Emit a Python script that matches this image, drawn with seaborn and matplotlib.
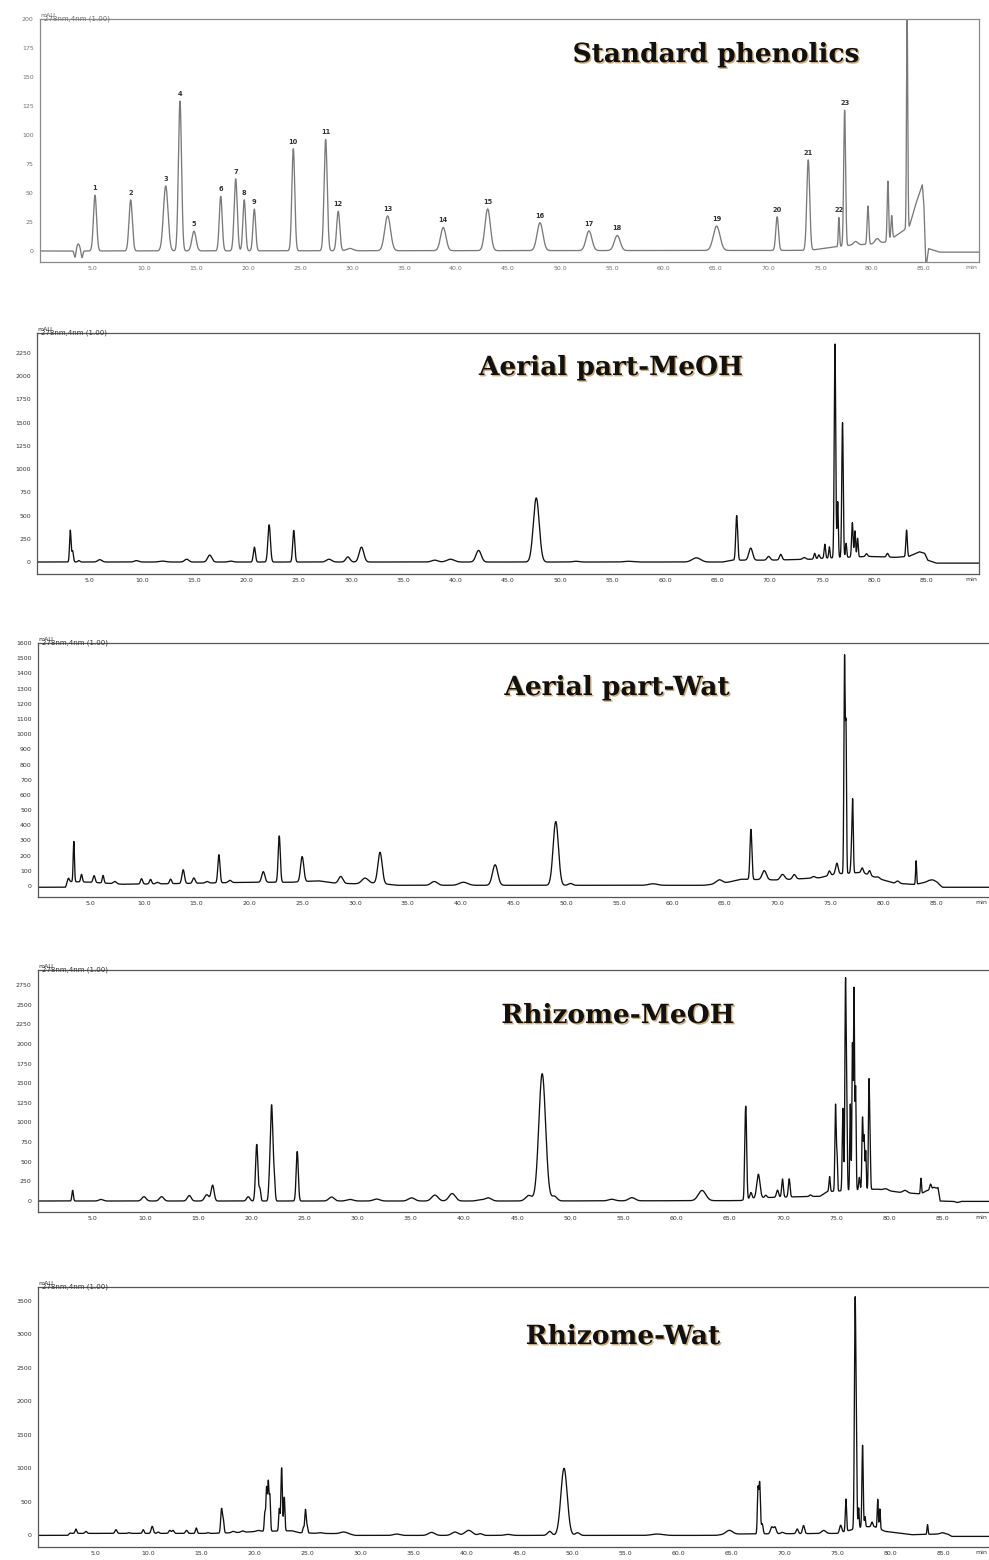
"""
HPLC chromatograms: standard phenolics and four extracts.
"""

import numpy as np
import matplotlib
matplotlib.use("Agg")
import matplotlib.pyplot as plt
import matplotlib.patheffects as pe
from matplotlib.ticker import MultipleLocator
import seaborn as sns


# ---------------------------------------------------
# Datos leídos del cromatograma (tiempo en min, mAU)
# ---------------------------------------------------

x_ticks = [5, 10, 15, 20, 25, 30, 35, 40, 45, 50, 55, 60, 65, 70, 75, 80, 85]
x_tick_labels = ["5.0", "10.0", "15.0", "20.0", "25.0", "30.0", "35.0", "40.0", "45.0",
                 "50.0", "55.0", "60.0", "65.0", "70.0", "75.0", "80.0", "85.0"]

# 1. Standard phenolics
std_base_t = [0, 74, 76, 78, 80, 81.5, 82.6, 83.6, 84.2, 84.85, 85.0, 85.2, 85.45, 86.5, 90.3]
std_base_v = [0, 0.5, 3, 5, 6, 8, 15, 21, 40, 57, 40, -15, 2, -1, -1]
std_times = [3.37, 3.68, 4.04, 5.29, 8.72, 12.09, 13.46, 14.81, 17.38, 18.82, 19.64, 20.61,
             24.36, 27.47, 28.68, 29.8, 33.43, 38.78, 43.05, 48.08, 52.79, 55.51, 65.07,
             70.89, 73.88, 76.83, 77.38, 78.43, 79.62, 80.5, 81.54, 81.9, 83.39]
std_heights = [-6, 6, -6, 48, 44, 56, 129, 17, 47, 62, 44, 36,
               88, 96, 34, 2, 30, 20, 36, 24, 17, 13, 21,
               29, 78, 25, 117, 3, 33, 4, 52, 20, 182]
std_widths = [0.08, 0.15, 0.08, 0.15, 0.16, 0.22, 0.15, 0.2, 0.14, 0.15, 0.13, 0.13,
              0.14, 0.15, 0.15, 0.3, 0.28, 0.26, 0.26, 0.28, 0.28, 0.28, 0.32,
              0.13, 0.14, 0.06, 0.09, 0.2, 0.08, 0.2, 0.07, 0.07, 0.06]
std_labels = ["", "", "", "1", "2", "3", "4", "5", "6", "7", "8", "9",
              "10", "11", "12", "", "13", "14", "15", "16", "17", "18", "19",
              "20", "21", "22", "23", "", "", "", "", "", ""]
std_yticks = [0, 25, 50, 75, 100, 125, 150, 175, 200]

# 2. Aerial part-MeOH
amw_base_t = [0, 65.5, 66.5, 70, 74, 75, 77, 79.5, 82, 83.3, 84.3, 84.8, 85.1, 85.9, 90]
amw_base_v = [0, 0, 20, 20, 30, 40, 50, 60, 50, 60, 110, 95, 20, -12, -12]
amw_times = [3.18, 3.4, 4.0, 6.0, 9.5, 12.0, 14.3, 16.5, 18.5, 20.77, 22.18, 24.53, 27.9,
             29.7, 31.0, 38.0, 39.5, 42.19, 47.7, 51.5, 56.5, 63.0, 66.85, 68.19, 69.9,
             71.06, 73.3, 74.3, 74.7, 75.27, 75.7, 76.24, 76.5, 76.96, 77.3, 77.9, 78.15,
             78.4, 79.25, 81.26, 83.08]
amw_heights = [340, 120, 15, 25, 15, 10, 30, 75, 10, 160, 400, 340, 30,
               55, 160, 20, 30, 125, 690, 8, 8, 45, 480, 130, 40,
               60, 20, 60, 40, 150, 120, 2300, 600, 1450, 150, 370, 280,
               200, 30, 40, 285]
amw_widths = [0.07, 0.08, 0.1, 0.2, 0.2, 0.3, 0.2, 0.2, 0.2, 0.1, 0.12, 0.1, 0.25,
              0.2, 0.22, 0.3, 0.35, 0.25, 0.28, 0.3, 0.4, 0.4, 0.09, 0.18, 0.15,
              0.12, 0.15, 0.08, 0.08, 0.07, 0.06, 0.07, 0.06, 0.07, 0.06, 0.07, 0.06,
              0.06, 0.1, 0.1, 0.07]
amw_yticks = [0, 250, 500, 750, 1000, 1250, 1500, 1750, 2000, 2250]

# 3. Aerial part-Wat
aww_base_t = [0, 2.6, 2.9, 5, 8, 12, 20, 24, 26.5, 28, 30, 32, 34, 45, 63, 65, 66.5,
              70, 74, 75.5, 78, 79.5, 81, 83, 84.3, 85.1, 85.6, 90]
aww_base_v = [-8, -8, 30, 25, 12, 15, 25, 25, 35, 20, 15, 20, 5, 5, 5, 20, 45,
              40, 55, 80, 90, 50, 20, 10, 30, 20, -8, -8]
aww_times = [2.85, 3.39, 4.12, 5.31, 6.16, 7.27, 9.8, 10.65, 11.3, 12.55, 13.74, 14.75,
             16.0, 17.12, 18.16, 21.32, 22.83, 25.0, 28.65, 30.95, 32.37, 37.5, 40.26,
             43.26, 49.0, 50.4, 58.2, 64.47, 67.47, 68.73, 70.46, 71.57, 73.4, 74.89,
             75.6, 76.33, 76.47, 77.0, 77.1, 78.0, 78.7, 79.5, 81.35, 83.1, 84.67]
aww_heights = [25, 265, 50, 45, 50, 15, 35, 30, 10, 30, 90, 35,
               10, 185, 15, 70, 305, 165, 45, 35, 205, 25, 20,
               135, 420, 12, 10, 25, 330, 60, 35, 30, 10, 30,
               70, 1420, 900, 150, 430, 30, 30, 10, 15, 155, 15]
aww_widths = [0.1, 0.06, 0.08, 0.1, 0.08, 0.15, 0.1, 0.1, 0.15, 0.1, 0.12, 0.12,
              0.15, 0.1, 0.15, 0.15, 0.1, 0.15, 0.2, 0.3, 0.2, 0.3, 0.4,
              0.25, 0.25, 0.2, 0.4, 0.3, 0.09, 0.2, 0.2, 0.15, 0.15, 0.1,
              0.12, 0.06, 0.05, 0.07, 0.06, 0.1, 0.1, 0.15, 0.15, 0.05, 0.3]
aww_yticks = [0, 100, 200, 300, 400, 500, 600, 700, 800, 900, 1000, 1100, 1200,
              1300, 1400, 1500, 1600]

# 4. Rhizome-MeOH
rmw_base_t = [0, 44.5, 66, 67.5, 70, 73.5, 74.2, 78.5, 79.0, 81, 83, 83.5, 84.6, 84.8,
              86.1, 86.4, 86.8, 89.4]
rmw_base_v = [0, 0, 5, 40, 50, 60, 120, 150, 150, 110, 90, 130, 170, 0,
              -5, -20, -5, -5]
rmw_times = [3.18, 5.84, 9.89, 11.55, 14.15, 15.8, 16.35, 19.7, 20.5, 20.8, 21.68, 21.9,
             22.15, 24.31, 27.54, 29.27, 31.78, 35.07, 37.26, 38.89, 41.5, 42.28, 46.1,
             47.36, 48.5, 53.9, 55.8, 62.4, 66.42, 66.52, 67.0, 67.7, 68.4, 69.5, 69.97,
             70.6, 72.6, 74.4, 74.96, 75.1, 75.65, 75.9, 76.02, 76.35, 76.55, 76.7, 76.85,
             77.2, 77.5, 77.65, 77.8, 78.1, 78.2, 79.7, 81.5, 83.0, 83.9, 84.2]
rmw_heights = [136, 20, 55, 55, 70, 80, 200, 55, 720, 150, 150, 1220,
               250, 630, 50, 20, 25, 40, 75, 95, 15, 40, 70,
               1620, 60, 20, 40, 130, 250, 1150, 80, 300, 30, 90, 230,
               230, 20, 190, 1100, 450, 1050, 2650, 1000, 1100, 1850, 2550, 1300,
               160, 920, 650, 490, 1300, 700, 20, 30, 200, 70, 20]
rmw_widths = [0.07, 0.2, 0.2, 0.2, 0.18, 0.2, 0.14, 0.15, 0.11, 0.08, 0.08, 0.12,
              0.08, 0.1, 0.25, 0.3, 0.3, 0.3, 0.3, 0.3, 0.3, 0.3, 0.3,
              0.32, 0.25, 0.3, 0.3, 0.35, 0.05, 0.08, 0.1, 0.15, 0.1, 0.1, 0.08,
              0.08, 0.1, 0.06, 0.06, 0.05, 0.06, 0.06, 0.05, 0.05, 0.05, 0.05, 0.05,
              0.06, 0.06, 0.05, 0.05, 0.05, 0.05, 0.2, 0.2, 0.05, 0.08, 0.1]
rmw_yticks = [0, 250, 500, 750, 1000, 1250, 1500, 1750, 2000, 2250, 2500, 2750]

# 5. Rhizome-Wat
rww_base_t = [0, 2.4, 2.8, 16, 18, 20.5, 23.5, 24.2, 26, 28.8, 29.5, 63.5, 64.5, 75,
              77.5, 78.5, 79.5, 82, 84.5, 85.4, 85.8, 89.3]
rww_base_v = [0, 0, 30, 30, 40, 60, 70, 40, 30, 25, 0, 0, 20, 30,
              130, 130, 60, 10, 20, 20, -15, -15]
rww_times = [2.57, 3.14, 4.08, 6.92, 8.14, 9.49, 10.34, 10.9, 12.0, 12.3, 13.58, 14.5,
             15.6, 16.88, 17.05, 17.98, 18.86, 20.34, 20.97, 21.13, 21.29, 21.44, 22.33,
             22.55, 22.8, 24.6, 24.8, 24.97, 26.2, 28.4, 33.4, 36.7, 38.9, 40.2, 41.3,
             43.9, 47.84, 49.2, 50.47, 58.0, 64.8, 67.5, 67.66, 67.9, 68.8, 69.1, 69.8,
             71.2, 71.8, 73.7, 75.3, 75.8, 76.67, 76.8, 77.0, 77.37, 77.6, 78.26, 78.8,
             79.0, 83.5, 84.9]
rww_heights = [20, 65, 30, 55, 10, 55, 105, 20, 45, 45, 45, 80,
               10, 360, 180, 20, 20, 15, 280, 640, 720, 520, 330,
               940, 500, 80, 350, 100, 10, 25, 20, 45, 50, 75, 25,
               15, 60, 1000, 40, 20, 55, 650, 760, 150, 100, 100, 20,
               70, 120, 45, 110, 480, 3430, 900, 300, 1220, 150, 70, 430,
               300, 145, 20]
rww_widths = [0.1, 0.08, 0.1, 0.1, 0.1, 0.08, 0.1, 0.1, 0.1, 0.1, 0.1, 0.08,
              0.1, 0.08, 0.07, 0.15, 0.15, 0.2, 0.06, 0.06, 0.06, 0.06, 0.06,
              0.07, 0.06, 0.06, 0.07, 0.06, 0.2, 0.3, 0.3, 0.3, 0.3, 0.35, 0.2,
              0.3, 0.2, 0.3, 0.2, 0.5, 0.3, 0.06, 0.07, 0.08, 0.12, 0.12, 0.15,
              0.1, 0.1, 0.2, 0.1, 0.06, 0.07, 0.05, 0.05, 0.06, 0.05, 0.08, 0.05,
              0.05, 0.05, 0.2]
rww_yticks = [0, 500, 1000, 1500, 2000, 2500, 3000, 3500]


# ---------------------------------------------------
# Funciones auxiliares
# ---------------------------------------------------

def build_trace(t, base_t, base_v, times, heights, widths):
    y = np.interp(t, base_t, base_v)
    for c, h, w in zip(times, heights, widths):
        y = y + h * np.exp(-0.5 * ((t - c) / w) ** 2)
    return y


W, H = 989, 1560


def make_axes(fig, box):
    left, top, right, bottom = box
    return fig.add_axes([left / W, 1 - bottom / H, (right - left) / W, (bottom - top) / H])


def draw_panel(fig, box, xlim, ylim, yticks, ymin_step, base_t, base_v, times,
               heights, widths, title, title_xy, line_color, frame_color, text_color,
               right_spine):

    ax = make_axes(fig, box)

    t = np.arange(xlim[0], xlim[1], 0.004)
    y = build_trace(t, base_t, base_v, times, heights, widths)

    sns.lineplot(x=t, y=y, ax=ax, color=line_color, linewidth=0.95,
                 estimator=None, sort=False)

    ax.set_xlim(*xlim)
    ax.set_ylim(*ylim)

    ax.set_xticks(x_ticks, x_tick_labels)
    ax.set_yticks(yticks, [str(v) for v in yticks])
    ax.xaxis.set_minor_locator(MultipleLocator(1))
    ax.yaxis.set_minor_locator(MultipleLocator(ymin_step))

    ax.tick_params(axis="both", which="major", labelsize=4.5, labelcolor=text_color,
                   color=frame_color, width=0.7, length=3, pad=1.5)
    ax.tick_params(axis="both", which="minor", color=frame_color, width=0.5, length=1.6)
    ax.tick_params(axis="x", which="both", direction="inout")

    for side in ["left", "bottom", "top", "right"]:
        ax.spines[side].set_color(frame_color)
        ax.spines[side].set_linewidth(0.9)
    ax.spines["right"].set_visible(right_spine)

    ax.set_xlabel("")
    ax.set_ylabel("")

    ax.text(0.0, 1.004, "mAU", transform=ax.transAxes, fontsize=4.5,
            color=text_color, ha="left", va="bottom")
    ax.text(0.004, 1.0, "278nm,4nm (1.00)", transform=ax.transAxes, fontsize=5,
            color=text_color, ha="left", va="center")
    ax.text(0.998, -0.012, "min", transform=ax.transAxes, fontsize=4.5,
            color=text_color, ha="right", va="top")

    fig.text(title_xy[0] / W, 1 - title_xy[1] / H, title,
             fontsize=19, fontweight="bold", family="DejaVu Serif",
             color="#111111", ha="center", va="baseline",
             path_effects=[pe.withSimplePatchShadow(offset=(1.0, -1.0),
                                                    shadow_rgbFace="#c08a3a",
                                                    alpha=0.7)])
    return ax


# ---------------------------------------------------
# Figura
# ---------------------------------------------------

sns.set_style("white")
plt.rcParams["font.family"] = ["DejaVu Sans"]

fig = plt.figure(figsize=(W / 100, H / 100), dpi=100)

ax1 = draw_panel(fig, (40, 19, 979, 262), (0, 90.3), (-9.5, 200), std_yticks, 5,
                 std_base_t, std_base_v, std_times, std_heights, std_widths,
                 "Standard phenolics", (716, 62), "#7a7a7a", "#8a8a8a", "#707070", True)

# Números de los picos del patrón
for c, h, lab in zip(std_times, std_heights, std_labels):
    if lab:
        top = build_trace(np.array([c]), std_base_t, std_base_v,
                          std_times, std_heights, std_widths)[0]
        ax1.annotate(lab, (c, top), xytext=(0, 3), textcoords="offset points",
                     ha="center", va="bottom", fontsize=4.8, fontweight="bold",
                     color="#333333")

draw_panel(fig, (37, 333, 979, 574), (0, 90.0), (-129, 2465), amw_yticks, 50,
           amw_base_t, amw_base_v, amw_times, amw_heights, amw_widths,
           "Aerial part-MeOH", (611, 375), "#111111", "#555555", "#333333", True)

draw_panel(fig, (38, 643, 989, 897), (0, 90.0), (-72, 1600), aww_yticks, 20,
           aww_base_t, aww_base_v, aww_times, aww_heights, aww_widths,
           "Aerial part-Wat", (617, 695), "#111111", "#555555", "#333333", False)

draw_panel(fig, (38, 970, 989, 1212), (-0.08, 89.4), (-140, 2941), rmw_yticks, 50,
           rmw_base_t, rmw_base_v, rmw_times, rmw_heights, rmw_widths,
           "Rhizome-MeOH", (618, 1023), "#111111", "#555555", "#333333", False)

draw_panel(fig, (38, 1287, 989, 1547), (-0.44, 89.3), (-173, 3704), rww_yticks, 100,
           rww_base_t, rww_base_v, rww_times, rww_heights, rww_widths,
           "Rhizome-Wat", (623, 1344), "#111111", "#555555", "#333333", False)

plt.savefig("out.png", dpi=100)
